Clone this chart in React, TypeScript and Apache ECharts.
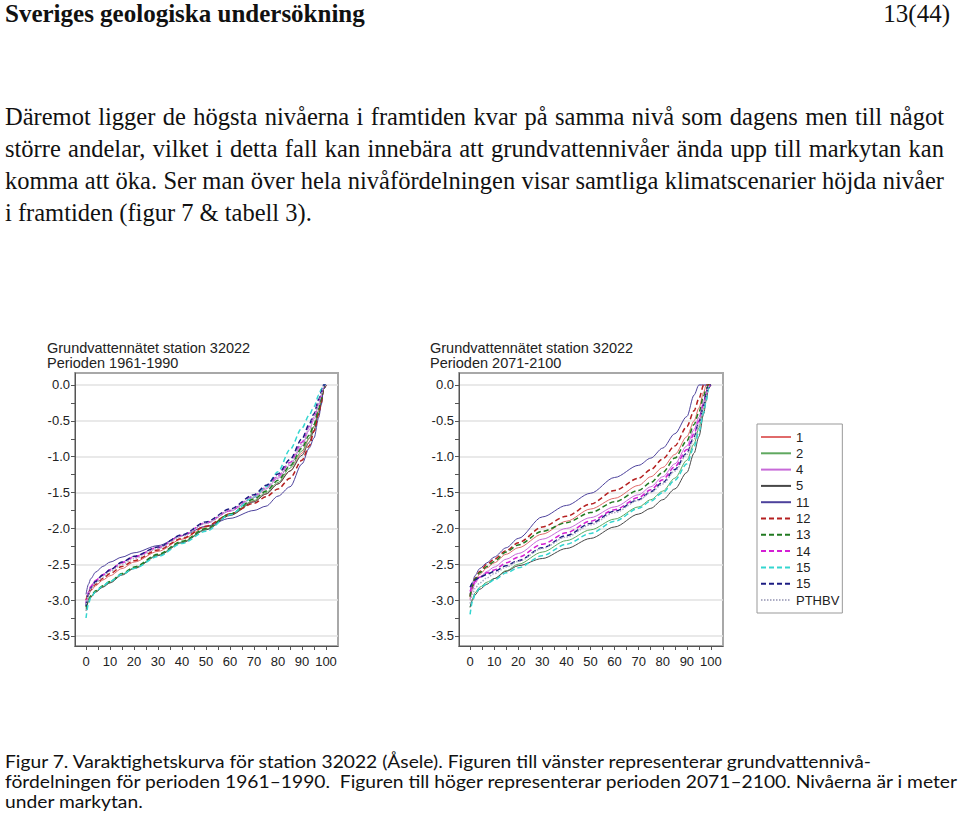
import React, { useEffect, useRef } from 'react';
import * as echarts from 'echarts';

// Duration percentage (x) shared by all curves
const PCT = [0, 1, 2, 4, 7, 10, 15, 20, 30, 40, 50, 60, 70, 75, 80, 85, 90, 93, 95, 97, 98, 99, 100];

const SERIES_NAMES = ['1', '2', '4', '5', '11', '12', '13', '14', '15', '15b', 'PTHBV'];

// Period 1961-1990 (left)
const L_1 = [-3.05, -2.93, -2.87, -2.8, -2.72, -2.66, -2.56, -2.47, -2.32, -2.15, -1.98, -1.8, -1.62, -1.52, -1.38, -1.2, -0.95, -0.75, -0.58, -0.35, -0.22, -0.05, 0];
const L_2 = [-3.12, -3.0, -2.95, -2.88, -2.81, -2.75, -2.64, -2.55, -2.37, -2.19, -2.01, -1.81, -1.61, -1.5, -1.36, -1.16, -0.92, -0.74, -0.58, -0.36, -0.23, -0.05, 0];
const L_4 = [-3.02, -2.88, -2.8, -2.72, -2.64, -2.57, -2.47, -2.39, -2.26, -2.1, -1.93, -1.76, -1.57, -1.45, -1.3, -1.12, -0.85, -0.63, -0.48, -0.28, -0.16, -0.03, 0];
const L_5 = [-3.15, -3.02, -2.96, -2.89, -2.82, -2.76, -2.65, -2.56, -2.38, -2.2, -2.02, -1.82, -1.63, -1.52, -1.38, -1.2, -0.98, -0.8, -0.63, -0.4, -0.26, -0.06, 0];
const L_11 = [-2.92, -2.78, -2.7, -2.61, -2.53, -2.47, -2.4, -2.34, -2.24, -2.1, -1.97, -1.86, -1.75, -1.69, -1.55, -1.42, -1.1, -0.88, -0.74, -0.45, -0.28, -0.06, 0];
const L_12 = [-3.0, -2.9, -2.85, -2.78, -2.7, -2.63, -2.53, -2.45, -2.3, -2.14, -1.97, -1.8, -1.65, -1.56, -1.45, -1.3, -1.05, -0.85, -0.65, -0.4, -0.25, -0.06, 0];
const L_13 = [-3.1, -2.99, -2.94, -2.87, -2.8, -2.74, -2.63, -2.54, -2.36, -2.18, -2.0, -1.8, -1.59, -1.48, -1.33, -1.13, -0.88, -0.7, -0.55, -0.33, -0.2, -0.04, 0];
const L_14 = [-3.05, -2.9, -2.81, -2.73, -2.65, -2.58, -2.48, -2.4, -2.27, -2.1, -1.92, -1.75, -1.55, -1.43, -1.27, -1.08, -0.8, -0.58, -0.44, -0.24, -0.13, -0.02, 0];
const L_15 = [-3.25, -3.05, -2.96, -2.88, -2.8, -2.74, -2.64, -2.56, -2.39, -2.21, -2.04, -1.81, -1.56, -1.42, -1.21, -0.9, -0.6, -0.42, -0.3, -0.14, -0.06, 0, 0];
const L_15B = [-3.08, -2.92, -2.83, -2.74, -2.65, -2.58, -2.47, -2.39, -2.26, -2.09, -1.91, -1.73, -1.53, -1.4, -1.24, -1.04, -0.75, -0.55, -0.4, -0.2, -0.1, 0, 0];
const L_PTHBV = [-3.06, -2.92, -2.84, -2.76, -2.68, -2.6, -2.5, -2.42, -2.28, -2.11, -1.93, -1.75, -1.56, -1.44, -1.28, -1.1, -0.82, -0.6, -0.45, -0.25, -0.14, -0.02, 0];

// Period 2071-2100 (right)
const R_1 = [-2.98, -2.84, -2.74, -2.64, -2.55, -2.48, -2.36, -2.27, -2.08, -1.9, -1.73, -1.58, -1.4, -1.28, -1.15, -0.97, -0.72, -0.5, -0.32, -0.1, 0, 0, 0];
const R_2 = [-3.1, -2.98, -2.9, -2.82, -2.75, -2.7, -2.59, -2.5, -2.33, -2.17, -2.02, -1.87, -1.7, -1.6, -1.48, -1.3, -1.05, -0.82, -0.6, -0.32, -0.18, 0, 0];
const R_4 = [-3.0, -2.86, -2.77, -2.68, -2.6, -2.54, -2.43, -2.35, -2.15, -2.0, -1.85, -1.7, -1.53, -1.42, -1.28, -1.1, -0.85, -0.62, -0.45, -0.22, -0.1, 0, 0];
const R_5 = [-3.1, -3.0, -2.93, -2.85, -2.78, -2.7, -2.6, -2.52, -2.42, -2.28, -2.14, -1.98, -1.8, -1.72, -1.6, -1.45, -1.22, -0.95, -0.72, -0.4, -0.22, -0.05, 0];
const R_11 = [-2.92, -2.76, -2.66, -2.56, -2.48, -2.4, -2.27, -2.14, -1.84, -1.68, -1.51, -1.29, -1.12, -1.02, -0.88, -0.68, -0.44, -0.14, 0, 0, 0, 0, 0];
const R_12 = [-2.95, -2.8, -2.7, -2.6, -2.5, -2.43, -2.31, -2.2, -1.98, -1.83, -1.66, -1.47, -1.3, -1.18, -1.03, -0.85, -0.58, -0.36, -0.19, 0, 0, 0, 0];
const R_13 = [-2.95, -2.8, -2.71, -2.62, -2.53, -2.46, -2.33, -2.23, -2.04, -1.92, -1.78, -1.63, -1.47, -1.36, -1.22, -1.02, -0.78, -0.55, -0.38, -0.15, -0.05, 0, 0];
const R_14 = [-2.88, -2.8, -2.74, -2.68, -2.62, -2.58, -2.48, -2.4, -2.22, -2.06, -1.9, -1.74, -1.57, -1.46, -1.32, -1.14, -0.9, -0.68, -0.5, -0.26, -0.13, -0.02, 0];
const R_15 = [-3.2, -3.02, -2.92, -2.83, -2.77, -2.72, -2.62, -2.55, -2.38, -2.22, -2.07, -1.9, -1.72, -1.62, -1.5, -1.33, -1.1, -0.86, -0.65, -0.38, -0.22, -0.05, 0];
const R_15B = [-2.82, -2.76, -2.72, -2.68, -2.64, -2.6, -2.52, -2.45, -2.27, -2.1, -1.93, -1.76, -1.6, -1.49, -1.36, -1.18, -0.95, -0.72, -0.52, -0.28, -0.12, 0, 0];
const R_PTHBV = [-3.05, -2.92, -2.84, -2.76, -2.69, -2.63, -2.54, -2.46, -2.28, -2.12, -1.95, -1.78, -1.61, -1.5, -1.38, -1.2, -0.97, -0.75, -0.56, -0.3, -0.15, -0.02, 0];

const LEFT_VALUES = [L_1, L_2, L_4, L_5, L_11, L_12, L_13, L_14, L_15, L_15B, L_PTHBV];
const RIGHT_VALUES = [R_1, R_2, R_4, R_5, R_11, R_12, R_13, R_14, R_15, R_15B, R_PTHBV];

const X_LABELS = [0, 10, 20, 30, 40, 50, 60, 70, 80, 90, 100];
const X_TICKS = [0, 5, 10, 15, 20, 25, 30, 35, 40, 45, 50, 55, 60, 65, 70, 75, 80, 85, 90, 95, 100];
const Y_LABELS = [0, -0.5, -1, -1.5, -2, -2.5, -3, -3.5];
const Y_TICKS = [0, -0.25, -0.5, -0.75, -1, -1.25, -1.5, -1.75, -2, -2.25, -2.5, -2.75, -3, -3.25, -3.5];

const TITLE_MAIN = 'Grundvattennätet station 32022';
const SUB_LEFT = 'Perioden 1961-1990';
const SUB_RIGHT = 'Perioden 2071-2100';

const STYLE: Record<string, { c: string; t: any; w: number }> = {
  '1': { c: '#e06a6a', t: 'solid', w: 1 },
  '2': { c: '#5fa85f', t: 'solid', w: 1 },
  '4': { c: '#c76ad8', t: 'solid', w: 1 },
  '5': { c: '#474747', t: 'solid', w: 1 },
  '11': { c: '#4d429c', t: 'solid', w: 1 },
  '12': { c: '#b52020', t: [5, 3], w: 1.5 },
  '13': { c: '#217a21', t: [5, 3], w: 1.5 },
  '14': { c: '#d41fd4', t: [5, 3], w: 1.5 },
  '15': { c: '#34d6d0', t: [5, 3], w: 1.5 },
  '15b': { c: '#1c1c82', t: [5, 3], w: 1.5 },
  'PTHBV': { c: '#adadc4', t: [1.5, 1.5], w: 1.5 },
};

const SANS = '"Liberation Sans", Arial, sans-serif';
const SERIF = '"Liberation Serif", "Times New Roman", serif';

const PARAGRAPH = [
  'Däremot ligger de högsta nivåerna i framtiden kvar på samma nivå som dagens men till något',
  'större andelar, vilket i detta fall kan innebära att grundvattennivåer ända upp till markytan kan',
  'komma att öka. Ser man över hela nivåfördelningen visar samtliga klimatscenarier höjda nivåer',
  'i framtiden (figur 7 & tabell 3).',
];
const CAPTION = [
  'Figur 7. Varaktighetskurva för station 32022 (Åsele). Figuren till vänster representerar grundvattennivå-',
  'fördelningen för perioden 1961–1990.  Figuren till höger representerar perioden 2071–2100. Nivåerna är i meter',
  'under markytan.',
];

function App() {
  const chartRef = useRef<HTMLDivElement>(null);
  const capRefs = useRef<(HTMLDivElement | null)[]>([]);
  const parRefs = useRef<(HTMLDivElement | null)[]>([]);

  useEffect(() => {
    // caption: compress the sans text to the original's width
    const l2 = capRefs.current[1];
    if (l2) {
      const nat = l2.getBoundingClientRect().width;
      const k = nat > 0 ? 952 / nat : 1;
      capRefs.current.forEach((el) => {
        if (el) el.style.transform = `scaleX(${k})`;
      });
    }
    // paragraph: justify the first three lines to 939px via word spacing
    parRefs.current.forEach((el, i) => {
      if (!el || i >= 3) return;
      const w = el.getBoundingClientRect().width;
      const spaces = (PARAGRAPH[i].match(/ /g) || []).length;
      if (spaces > 0) el.style.wordSpacing = `${(939 - w) / spaces}px`;
    });
  }, []);

  useEffect(() => {
    if (!chartRef.current) return;
    const chart = echarts.init(chartRef.current, undefined, { renderer: 'svg' });

    const grids = [
      { left: 75, top: 373, width: 263, height: 273 },
      { left: 459, top: 373, width: 264, height: 273 },
    ];

    const xAxes: any[] = [];
    const yAxes: any[] = [];
    grids.forEach((_, gi) => {
      xAxes.push({
        type: 'value',
        gridIndex: gi,
        min: -4.6,
        max: 105,
        axisLine: { show: true, onZero: false, lineStyle: { color: '#555', width: 1 } },
        axisTick: { show: true, length: 4, customValues: X_TICKS, lineStyle: { color: '#555' } },
        axisLabel: {
          customValues: X_LABELS,
          fontSize: 13,
          color: '#222',
          margin: 9,
          fontFamily: SANS,
          formatter: (v: number) => String(Math.round(v)),
        },
        splitLine: { show: false },
      });
      yAxes.push({
        type: 'value',
        gridIndex: gi,
        min: -3.64,
        max: 0.167,
        axisLine: { show: true, onZero: false, lineStyle: { color: '#555', width: 1 } },
        axisTick: { show: true, length: 4, customValues: Y_TICKS, lineStyle: { color: '#555' } },
        axisLabel: {
          customValues: Y_LABELS,
          fontSize: 13,
          color: '#222',
          margin: 5,
          fontFamily: SANS,
          formatter: (v: number) => v.toFixed(1),
        },
        splitLine: { show: false },
      });
      yAxes.push({
        type: 'value',
        gridIndex: gi,
        min: -3.64,
        max: 0.167,
        axisLine: { show: false },
        axisTick: { show: false, customValues: Y_LABELS },
        axisLabel: { show: false, customValues: Y_LABELS },
        splitLine: { show: true, lineStyle: { color: '#e2e2e2', width: 1.5 } },
      });
    });

    const series: any[] = [];
    [LEFT_VALUES, RIGHT_VALUES].forEach((vals, gi) => {
      SERIES_NAMES.forEach((name, si) => {
        const st = STYLE[name];
        series.push({
          type: 'line',
          name,
          xAxisIndex: gi,
          yAxisIndex: gi * 2,
          data: PCT.map((x, i) => [x, vals[si][i]]),
          symbol: 'none',
          showSymbol: false,
          smooth: 0.3,
          smoothMonotone: 'x',
          lineStyle: { color: st.c, type: st.t, width: st.w },
          itemStyle: { color: st.c },
          emphasis: { disabled: true },
        });
      });
    });

    const titleStyle = { fontSize: 14.5, lineHeight: 15, fontWeight: 'normal', color: '#222', fontFamily: SANS };

    chart.setOption({
      animation: false,
      backgroundColor: '#fff',
      textStyle: { fontFamily: SANS },
      title: [
        { text: TITLE_MAIN, subtext: SUB_LEFT, left: 47, top: 340, padding: 0, itemGap: 0, textStyle: titleStyle, subtextStyle: titleStyle },
        { text: TITLE_MAIN, subtext: SUB_RIGHT, left: 430, top: 340, padding: 0, itemGap: 0, textStyle: titleStyle, subtextStyle: titleStyle },
      ],
      grid: grids.map((g) => ({
        ...g,
        show: true,
        borderColor: '#a8a8a8',
        borderWidth: 2,
        backgroundColor: 'transparent',
        containLabel: false,
      })),
      xAxis: xAxes,
      yAxis: yAxes,
      legend: {
        orient: 'vertical',
        left: 757,
        top: 424,
        data: SERIES_NAMES,
        formatter: (n: string) => (n === '15b' ? '15' : n),
        itemWidth: 30,
        itemHeight: 10,
        itemGap: 3.3,
        selectedMode: false,
        padding: [6.5, 3, 6.5, 3],
        borderColor: '#999',
        borderWidth: 1,
        backgroundColor: '#fff',
        itemStyle: { opacity: 0, borderWidth: 0 },
        textStyle: { fontSize: 13, color: '#222', fontFamily: SANS },
      },
      series,
    });

    return () => chart.dispose();
  }, []);

  return (
    <div style={{ position: 'absolute', left: 0, top: 0, width: 960, height: 814, background: '#fff', overflow: 'hidden' }}>
      <div ref={chartRef} style={{ position: 'absolute', left: 0, top: 0, width: 960, height: 814 }} />
      <div
        style={{
          position: 'absolute', left: 5, top: 0, fontFamily: SERIF, fontWeight: 'bold',
          fontSize: 25, lineHeight: '28px', color: '#111', whiteSpace: 'nowrap',
        }}
      >
        Sveriges geologiska undersökning
      </div>
      <div
        style={{
          position: 'absolute', right: 10, top: 0, fontFamily: SERIF,
          fontSize: 25, lineHeight: '28px', color: '#111', whiteSpace: 'nowrap',
        }}
      >
        13(44)
      </div>
      {PARAGRAPH.map((line, i) => (
        <div
          key={i}
          ref={(el) => { parRefs.current[i] = el; }}
          style={{
            position: 'absolute', left: 5, top: 102 + i * 32, whiteSpace: 'nowrap',
            fontFamily: SERIF, fontSize: 24.5, lineHeight: '30px', color: '#111',
            display: 'inline-block',
          }}
        >
          {line}
        </div>
      ))}
      {CAPTION.map((line, i) => (
        <div
          key={i}
          ref={(el) => { capRefs.current[i] = el; }}
          style={{
            position: 'absolute', left: 5, top: 751 + i * 20, whiteSpace: 'pre',
            fontFamily: 'Lato, "Noto Sans", sans-serif', fontSize: 18, lineHeight: '20px', color: '#111',
            transformOrigin: 'left center', display: 'inline-block',
          }}
        >
          {line}
        </div>
      ))}
    </div>
  );
}

export default App;
